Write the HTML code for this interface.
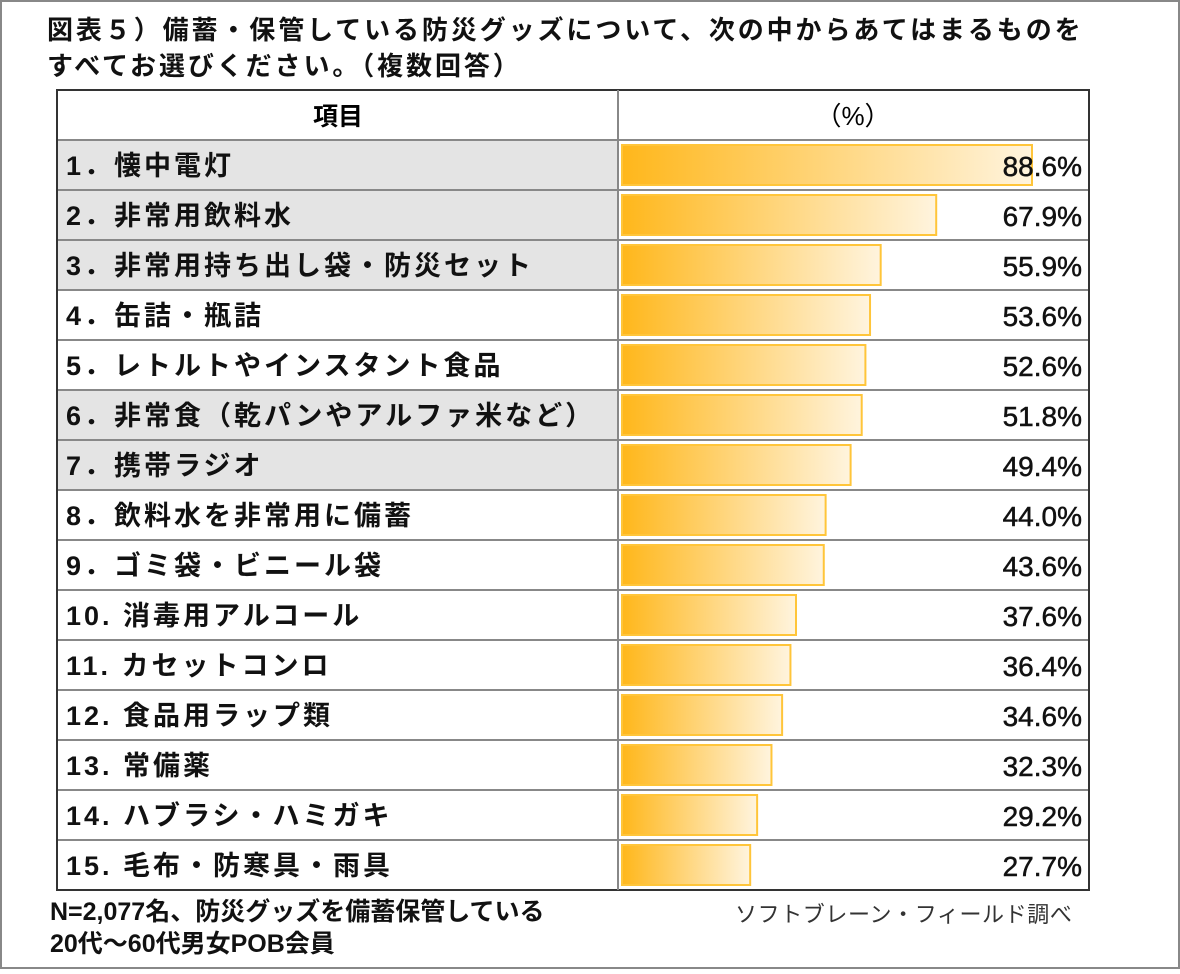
<!DOCTYPE html>
<html><head><meta charset="utf-8"><style>
body{margin:0;width:1180px;height:974px;background:#fff;position:relative;overflow:hidden;font-family:"Liberation Sans","Noto Sans CJK JP",sans-serif;color:#111}
#frame{position:absolute;left:0;top:0;width:1176px;height:965px;border:2px solid #888}
.t{position:absolute;white-space:nowrap}
</style></head><body>
<div id="frame"></div>
<div class="t" style="left:47px;top:12px;font-size:26px;letter-spacing:2.9px;font-weight:bold;line-height:36px">図表５）備蓄・保管している防災グッズについて、次の中からあてはまるものを<br>すべてお選びください。（複数回答）</div>
<svg id="chart" width="1180" height="974" style="position:absolute;left:0;top:0"></svg>
<div class="t" style="left:50px;top:896px;font-size:25px;font-weight:bold;line-height:32px">N=2,077名、防災グッズを備蓄保管している<br>20代～60代男女POB会員</div>
<div class="t" style="left:735px;top:897px;font-size:22px;letter-spacing:0.6px;color:#333">ソフトブレーン・フィールド調べ</div>
<script>
const labels=["1．懐中電灯","2．非常用飲料水","3．非常用持ち出し袋・防災セット","4．缶詰・瓶詰","5．レトルトやインスタント食品","6．非常食（乾パンやアルファ米など）","7．携帯ラジオ","8．飲料水を非常用に備蓄","9．ゴミ袋・ビニール袋","10. 消毒用アルコール","11. カセットコンロ","12. 食品用ラップ類","13. 常備薬","14. ハブラシ・ハミガキ","15. 毛布・防寒具・雨具"];
const values=[88.6,67.9,55.9,53.6,52.6,51.8,49.4,44.0,43.6,37.6,36.4,34.6,32.3,29.2,27.7];
const shaded=[1,1,1,0,0,1,1,0,0,0,0,0,0,0,0];
const NS="http://www.w3.org/2000/svg";
const svg=document.getElementById('chart');
const L=57,R=1089,D=618,T=90,H=50,B0=622;
const x=v=>v*410/88.6;
const rowY=i=>T+H*(i+1);
function mk(tag,a){const e=document.createElementNS(NS,tag);for(const k in a)e.setAttribute(k,a[k]);svg.appendChild(e);return e;}
svg.innerHTML='<defs><linearGradient id="g" x1="0" x2="1"><stop offset="0" stop-color="#ffb71b"/><stop offset="1" stop-color="#fff4de"/></linearGradient></defs>';
values.forEach((v,i)=>{
  const y=rowY(i);
  if(shaded[i]){const s=mk('rect',{x:L,y:y,width:D-L,height:H,fill:'#e4e4e4'});
  
  }
  const lb=mk('text',{x:66,y:y+35,'font-size':27,'font-weight':600,'letter-spacing':3,fill:'#111'});lb.textContent=labels[i];
  
  
  const b=mk('rect',{x:B0,y:y+5,width:x(v),height:40,fill:'url(#g)',stroke:'#ffc53a','stroke-width':2});
  
  
  const vt=mk('text',{x:1082,y:y+36,'font-size':28,'text-anchor':'end',fill:'#111',stroke:'#111','stroke-width':0.5});vt.textContent=v.toFixed(1)+'%';
  
  
});
for(let i=1;i<=15;i++)mk('line',{x1:L,x2:R,y1:T+H*i,y2:T+H*i,stroke:'#888','stroke-width':2});
mk('rect',{x:L,y:T,width:R-L,height:H*16,fill:'none',stroke:'#333','stroke-width':2});
mk('line',{x1:D,x2:D,y1:T,y2:T+H*16,stroke:'#888','stroke-width':2});
const h1=mk('text',{x:338,y:T+35,'font-size':25,'font-weight':'bold','text-anchor':'middle'});h1.textContent='項目';


const h2=mk('text',{x:853,y:T+35,'font-size':26,'text-anchor':'middle'});h2.textContent='（%）';


</script>
</body></html>
